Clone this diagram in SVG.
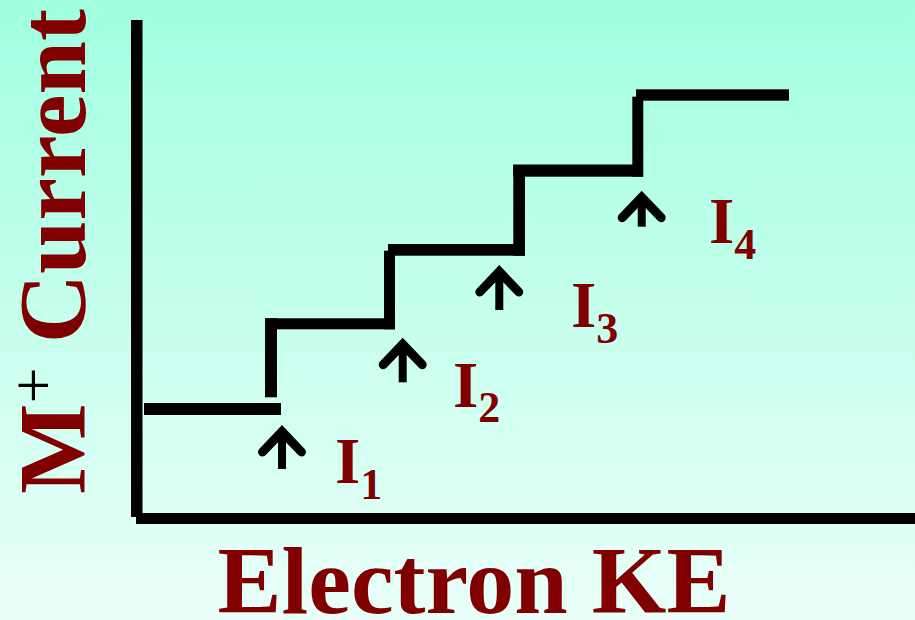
<svg xmlns="http://www.w3.org/2000/svg" width="915" height="620" viewBox="0 0 915 620">
  <defs>
    <linearGradient id="bg" x1="0" y1="0" x2="0" y2="1">
      <stop offset="0" stop-color="#A0FFE0"/>
      <stop offset="1" stop-color="#EAFFFA"/>
    </linearGradient>
    <style>
      .bar { fill: #000; }
      .chev { fill: none; stroke: #000; stroke-width: 9; stroke-linecap: round; stroke-linejoin: miter; }
      .shaft { fill: none; stroke: #000; stroke-width: 8; stroke-linecap: butt; }
      .lbl { font-family: "Liberation Serif", "Times New Roman", serif; font-weight: bold; fill: #800000; }
      .big { font-size: 96px; }
      .ion { font-size: 65px; }
      .sub { font-size: 44px; }
    </style>
  </defs>
  <rect x="0" y="0" width="915" height="620" fill="url(#bg)"/>

  <g id="axes">
    <rect class="bar" x="131" y="20" width="11.5" height="497"/>
    <rect class="bar" x="136" y="513" width="779" height="11"/>
  </g>

  <g id="connectors">
    <g id="staircase">
      <rect class="bar" x="144" y="403" width="137" height="12"/>
      <rect class="bar" x="265" y="318.3" width="12" height="79"/>
      <rect class="bar" x="265" y="318.3" width="130" height="11"/>
      <rect class="bar" x="384" y="250.7" width="11" height="78.6"/>
      <rect class="bar" x="388" y="244" width="137" height="11.7"/>
      <rect class="bar" x="513.3" y="165" width="11.7" height="90.7"/>
      <rect class="bar" x="513.3" y="164.5" width="129.7" height="12.2"/>
      <rect class="bar" x="632.3" y="96.7" width="11" height="80"/>
      <rect class="bar" x="636" y="89.3" width="153" height="11.4"/>
    </g>
    <g id="arrow1">
      <polyline class="chev" points="262.5,452 282,431.6 301.5,452"/>
      <line class="shaft" x1="282" y1="431" x2="282" y2="469"/>
    </g>
    <g id="arrow2">
      <polyline class="chev" points="383.2,364.7 402.7,344.3 422.2,364.7"/>
      <line class="shaft" x1="402.7" y1="344" x2="402.7" y2="382.3"/>
    </g>
    <g id="arrow3">
      <polyline class="chev" points="479.8,292 499.3,271.6 518.8,292"/>
      <line class="shaft" x1="499.3" y1="271" x2="499.3" y2="310"/>
    </g>
    <g id="arrow4">
      <polyline class="chev" points="622.2,217.7 641.7,197.3 661.2,217.7"/>
      <line class="shaft" x1="641.7" y1="197" x2="641.7" y2="226.7"/>
    </g>
  </g>

  <g id="label-I1">
    <text class="lbl ion" x="335" y="483">I<tspan class="sub" dy="16">1</tspan></text>
  </g>
  <g id="label-I2">
    <text class="lbl ion" x="453" y="406.5">I<tspan class="sub" dy="15.5">2</tspan></text>
  </g>
  <g id="label-I3">
    <text class="lbl ion" x="571" y="326.7">I<tspan class="sub" dy="16">3</tspan></text>
  </g>
  <g id="label-I4">
    <text class="lbl ion" x="709" y="243.3">I<tspan class="sub" dy="16">4</tspan></text>
  </g>

  <g id="x-label">
    <text class="lbl big" x="474" y="612.5" text-anchor="middle">Electron KE</text>
  </g>
  <g id="y-label">
    <text class="lbl big" transform="translate(84.5,494) rotate(-90)" x="0" y="0">M<tspan style="font-size:64px;font-weight:normal;fill:#000" dy="-29.5">+</tspan><tspan dy="29.5"> Current</tspan></text>
  </g>
</svg>
